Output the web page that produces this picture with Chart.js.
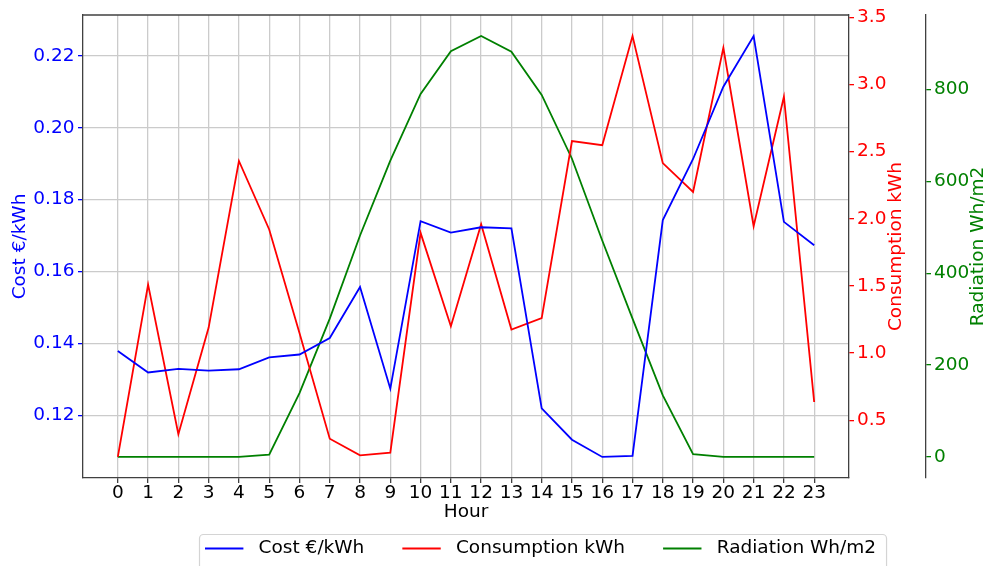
<!DOCTYPE html>
<html>
<head>
<meta charset="utf-8">
<script src="https://cdn.jsdelivr.net/npm/chart.js@4.4.1/dist/chart.umd.min.js"></script>
<style>
  html, body { margin: 0; padding: 0; background: #ffffff; }
  #wrap { position: relative; width: 996px; height: 566px; }
</style>
</head>
<body>
<div id="wrap"><canvas id="c" width="996" height="566"></canvas></div>
<script>
// Hourly profile: electricity price, household consumption and solar radiation
const hours = [0, 1, 2, 3, 4, 5, 6, 7, 8, 9, 10, 11, 12, 13, 14, 15, 16, 17, 18, 19, 20, 21, 22, 23];
const costEurKwh = [0.1379, 0.1319, 0.1329, 0.1324, 0.1328, 0.1361, 0.1369, 0.1415, 0.1557, 0.1274,
                    0.1740, 0.1708, 0.1723, 0.1720, 0.1219, 0.1132, 0.1084, 0.1087, 0.1743, 0.1913,
                    0.2114, 0.2255, 0.1738, 0.1673];
const consumptionKwh = [0.227, 1.51, 0.396, 1.19, 2.43, 1.92, 1.15, 0.363, 0.239, 0.259,
                        1.895, 1.20, 1.96, 1.175, 1.26, 2.578, 2.548, 3.36, 2.414, 2.20,
                        3.273, 1.945, 2.908, 0.636];
const radiationWhM2 = [0, 0, 0, 0, 0, 5, 139, 301, 482, 645, 790, 883, 916, 882, 788, 649,
                       471, 301, 134, 6, 0, 0, 0, 0];

const costTicks = [0.12, 0.14, 0.16, 0.18, 0.20, 0.22];
const consumptionTicks = [0.5, 1.0, 1.5, 2.0, 2.5, 3.0, 3.5];
const radiationTicks = [0, 200, 400, 600, 800];

const FONT = 'DejaVu Sans';
const FS = 18.5;
const SPINE = '#404040';
const GRID = '#cbcbcb';

// Axis limits padded by 5% of the data span on each side
function padded(values) {
  const lo = Math.min(...values), hi = Math.max(...values);
  const m = (hi - lo) * 0.05;
  return { min: lo - m, max: hi + m };
}
const xLim = padded(hours);
const costLim = padded(costEurKwh);
const consLim = padded(consumptionKwh);
const radLim = padded(radiationWhM2);

const fixedTicks = list => scale => { scale.ticks = list.map(v => ({ value: v })); };
const fixedWidth = w => scale => { scale.width = w; };

const chartPlugin = {
  id: 'frameAndLegend',
  beforeDraw(chart) {
    const ctx = chart.ctx;
    ctx.save();
    ctx.fillStyle = '#ffffff';
    ctx.fillRect(0, 0, chart.width, chart.height);
    ctx.restore();
  },
  afterDraw(chart) {
    const ctx = chart.ctx;
    const area = chart.chartArea;
    ctx.save();

    // top edge of the plot frame
    ctx.strokeStyle = SPINE;
    ctx.lineWidth = 1.3;
    ctx.beginPath();
    ctx.moveTo(area.left, area.top);
    ctx.lineTo(area.right, area.top);
    ctx.stroke();

    // right-hand axis titles, reading bottom to top
    ctx.font = FS + 'px "' + FONT + '"';
    ctx.textAlign = 'center';
    ctx.textBaseline = 'middle';
    const midY = (area.top + area.bottom) / 2;
    [['yCons', 30], ['yRad', 18]].forEach(([id, off]) => {
      const s = chart.scales[id];
      ctx.save();
      ctx.translate(s.right - off, midY);
      ctx.rotate(-Math.PI / 2);
      ctx.fillStyle = s.options.ticks.color;
      ctx.fillText(s.options.axisLabel, 0, 0);
      ctx.restore();
    });

    // legend box below the axis
    const boxX = 199, boxY = 534, boxH = 44;
    const handle = 38.4, textPad = 15.2, colGap = 38, padL = 6, padR = 10;
    const items = chart.data.datasets.map(d => ({
      label: d.label, color: d.borderColor, w: ctx.measureText(d.label).width
    }));
    let boxW = padL + padR + colGap * (items.length - 1);
    items.forEach(it => { boxW += handle + textPad + it.w; });
    ctx.beginPath();
    ctx.roundRect(boxX + 0.5, boxY + 0.5, boxW, boxH, 4);
    ctx.fillStyle = '#ffffff';
    ctx.fill();
    ctx.strokeStyle = '#d4d4d4';
    ctx.lineWidth = 1.2;
    ctx.stroke();

    let x = boxX + padL;
    const rowY = 548.5;
    ctx.textAlign = 'left';
    items.forEach(it => {
      ctx.strokeStyle = it.color;
      ctx.lineWidth = 2;
      ctx.beginPath();
      ctx.moveTo(x, rowY);
      ctx.lineTo(x + handle, rowY);
      ctx.stroke();
      x += handle + textPad;
      ctx.fillStyle = '#000000';
      ctx.fillText(it.label, x, rowY);
      x += it.w + colGap;
    });
    ctx.restore();
  }
};

const lineStyle = color => ({
  borderColor: color,
  backgroundColor: color,
  borderWidth: 1.8,
  pointRadius: 0,
  tension: 0,
  fill: false
});

new Chart(document.getElementById('c'), {
  type: 'line',
  data: {
    labels: hours,
    datasets: [
      Object.assign({ label: 'Cost €/kWh', data: costEurKwh, yAxisID: 'yCost' }, lineStyle('#0000ff')),
      Object.assign({ label: 'Consumption kWh', data: consumptionKwh, yAxisID: 'yCons' }, lineStyle('#ff0000')),
      Object.assign({ label: 'Radiation Wh/m2', data: radiationWhM2, yAxisID: 'yRad' }, lineStyle('#008000'))
    ]
  },
  options: {
    responsive: false,
    animation: false,
    devicePixelRatio: 1,
    layout: { padding: { top: 15, left: 0, right: 0, bottom: 0 } },
    plugins: {
      legend: { display: false },
      tooltip: { enabled: false }
    },
    scales: {
      x: {
        type: 'linear',
        position: 'bottom',
        min: xLim.min,
        max: xLim.max,
        afterBuildTicks: fixedTicks(hours),
        afterFit: scale => { scale.height = 88; },
        grid: { color: GRID, lineWidth: 1.3, tickColor: SPINE, tickLength: 5, drawOnChartArea: true },
        border: { color: SPINE, width: 1.3 },
        ticks: {
          color: '#000000', padding: 1, maxRotation: 0, autoSkip: false,
          font: { family: FONT, size: FS, lineHeight: 1.0 },
          callback: v => String(v)
        },
        title: {
          display: true, text: 'Hour', color: '#000000',
          font: { family: FONT, size: FS },
          padding: { top: 0, bottom: 43 }
        }
      },
      yCost: {
        type: 'linear',
        position: 'left',
        min: costLim.min,
        max: costLim.max,
        afterBuildTicks: fixedTicks(costTicks),
        afterFit: fixedWidth(83),
        grid: { color: GRID, lineWidth: 1.3, tickColor: '#0000ff', tickLength: 5, drawOnChartArea: true },
        border: { color: SPINE, width: 1.3 },
        ticks: {
          color: '#0000ff', padding: 3.5,
          font: { family: FONT, size: FS, lineHeight: 1.0 },
          callback: v => v.toFixed(2)
        },
        title: {
          display: true, text: 'Cost €/kWh', color: '#0000ff',
          font: { family: FONT, size: FS },
          padding: { top: 9, bottom: 0 }
        }
      },
      yCons: {
        type: 'linear',
        position: 'right',
        min: consLim.min,
        max: consLim.max,
        axisLabel: 'Consumption kWh',
        afterBuildTicks: fixedTicks(consumptionTicks),
        afterFit: fixedWidth(77),
        grid: { drawOnChartArea: false, color: '#ff0000', tickColor: '#ff0000', tickLength: 5, lineWidth: 1.3 },
        border: { color: SPINE, width: 1.3 },
        ticks: {
          color: '#ff0000', padding: 3,
          font: { family: FONT, size: FS, lineHeight: 1.0 },
          callback: v => v.toFixed(1)
        },
        title: { display: false }
      },
      yRad: {
        type: 'linear',
        position: 'right',
        min: radLim.min,
        max: radLim.max,
        axisLabel: 'Radiation Wh/m2',
        afterBuildTicks: fixedTicks(radiationTicks),
        afterFit: fixedWidth(70),
        grid: { drawOnChartArea: false, color: '#008000', tickColor: '#008000', tickLength: 5, lineWidth: 1.3 },
        border: { color: SPINE, width: 1.3 },
        ticks: {
          color: '#008000', padding: 3,
          font: { family: FONT, size: FS, lineHeight: 1.0 },
          callback: v => String(Math.round(v))
        },
        title: { display: false }
      }
    }
  },
  plugins: [chartPlugin]
});
</script>
</body>
</html>
